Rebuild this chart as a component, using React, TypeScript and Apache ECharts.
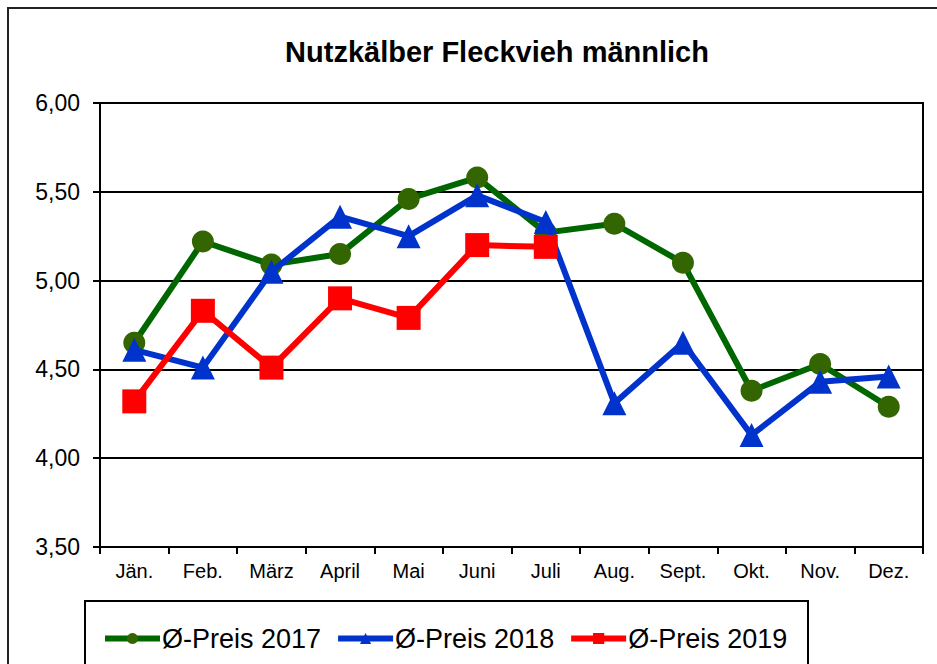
import React, { useEffect, useRef } from "react";
import * as echarts from "echarts";

const months = ["Jän.", "Feb.", "März", "April", "Mai", "Juni", "Juli", "Aug.", "Sept.", "Okt.", "Nov.", "Dez."];
const preis2017 = [4.65, 5.22, 5.09, 5.15, 5.46, 5.58, 5.27, 5.32, 5.10, 4.38, 4.53, 4.29];
const preis2018 = [4.61, 4.51, 5.05, 5.36, 5.25, 5.48, 5.33, 4.31, 4.65, 4.13, 4.43, 4.46];
const preis2019: (number | null)[] = [4.32, 4.83, 4.51, 4.90, 4.79, 5.20, 5.19, null, null, null, null, null];
const seriesNames = ["Ø-Preis 2017", "Ø-Preis 2018", "Ø-Preis 2019"];
const titleText = "Nutzkälber Fleckvieh männlich";

const FONT = "'Liberation Sans', Arial, Helvetica, sans-serif";

export default function App() {
  const ref = useRef<HTMLDivElement>(null);
  useEffect(() => {
    document.body.style.margin = "0";
    const chart = echarts.init(ref.current!, null, { renderer: "svg" });
    chart.setOption({
      animation: false,
      backgroundColor: "#fff",
      grid: {
        left: 100,
        right: 14,
        top: 103,
        bottom: 117,
        show: true,
        borderColor: "#000",
        borderWidth: 2,
      },
      legend: {
        left: 97,
        top: 620,
        itemWidth: 55,
        itemHeight: 14,
        itemGap: 14,
        lineStyle: { width: 6 },
        textStyle: { fontFamily: FONT, fontSize: 27, color: "#000", padding: [0, 0, 0, -3] },
        data: seriesNames,
      },
      graphic: [
        {
          type: "rect",
          shape: { x: 8, y: 8, width: 960, height: 700 },
          style: { fill: "none", stroke: "#222", lineWidth: 2 },
          silent: true,
          z: 0,
        },
        {
          type: "rect",
          shape: { x: 85, y: 601, width: 723, height: 100 },
          style: { fill: "none", stroke: "#000", lineWidth: 2 },
          silent: true,
          z: 0,
        },
        {
          type: "text",
          x: 497,
          y: 52,
          style: {
            text: titleText,
            fontFamily: FONT,
            fontSize: 29,
            fontWeight: "bold",
            fill: "#000",
            textAlign: "center",
            textVerticalAlign: "middle",
          },
          silent: true,
        },
      ],
      xAxis: {
        type: "category",
        data: months,
        boundaryGap: true,
        axisLine: { lineStyle: { color: "#000", width: 2 } },
        axisTick: { show: true, interval: 0, length: 7, lineStyle: { color: "#000", width: 2 } },
        axisLabel: { fontFamily: FONT, fontSize: 20, color: "#000", margin: 14, interval: 0 },
      },
      yAxis: {
        type: "value",
        min: 3.5,
        max: 6,
        interval: 0.5,
        axisLine: { show: true, lineStyle: { color: "#000", width: 2 } },
        axisTick: { show: true, length: 7, lineStyle: { color: "#000", width: 2 } },
        axisLabel: {
          fontFamily: FONT,
          fontSize: 23,
          color: "#000",
          margin: 20,
          formatter: (v: number) => v.toFixed(2).replace(".", ","),
        },
        splitLine: { show: true, lineStyle: { color: "#000", width: 2 } },
      },
      series: [
        {
          name: seriesNames[0],
          type: "line",
          data: preis2017,
          symbol: "circle",
          symbolSize: 22,
          lineStyle: { color: "#006600", width: 6 },
          itemStyle: { color: "#336600" },
          color: "#006600",
          z: 2,
        },
        {
          name: seriesNames[1],
          type: "line",
          data: preis2018,
          symbol: "triangle",
          symbolSize: 24,
          lineStyle: { color: "#0033CC", width: 6 },
          itemStyle: { color: "#0033CC" },
          color: "#0033CC",
          z: 3,
        },
        {
          name: seriesNames[2],
          type: "line",
          data: preis2019,
          symbol: "rect",
          symbolSize: 24,
          lineStyle: { color: "#FF0000", width: 6 },
          itemStyle: { color: "#FF0000" },
          color: "#FF0000",
          z: 4,
        },
      ],
    });
    return () => chart.dispose();
  }, []);
  return <div ref={ref} style={{ width: 937, height: 664, position: "absolute", left: 0, top: 0 }} />;
}
